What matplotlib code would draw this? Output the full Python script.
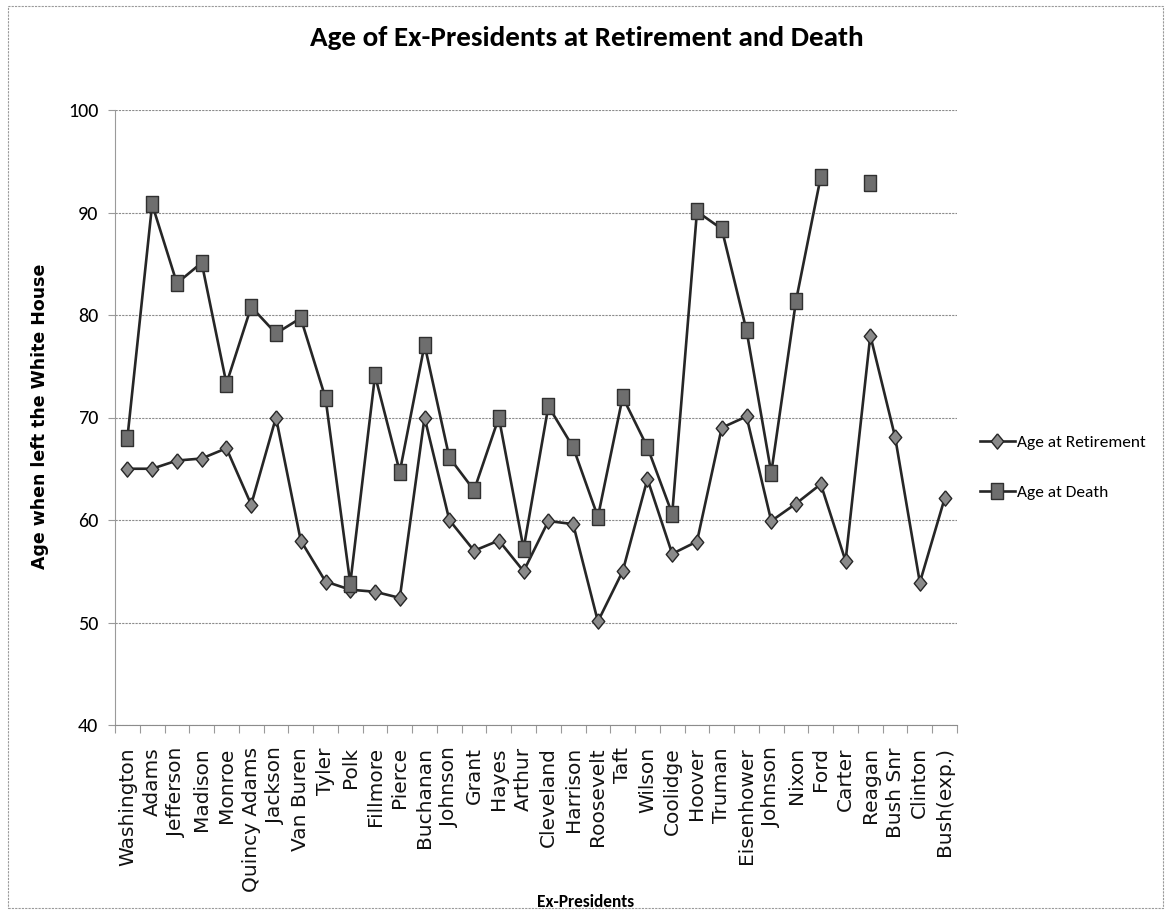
import matplotlib
matplotlib.use('Agg')
import matplotlib.pyplot as plt
import numpy as np
from matplotlib.patches import Rectangle
from matplotlib.ticker import FixedLocator, NullFormatter

presidents = ['Washington', 'Adams', 'Jefferson', 'Madison', 'Monroe', 'Quincy Adams',
              'Jackson', 'Van Buren', 'Tyler', 'Polk', 'Fillmore', 'Pierce', 'Buchanan',
              'Johnson', 'Grant', 'Hayes', 'Arthur', 'Cleveland', 'Harrison', 'Roosevelt',
              'Taft', 'Wilson', 'Coolidge', 'Hoover', 'Truman', 'Eisenhower', 'Johnson',
              'Nixon', 'Ford', 'Carter', 'Reagan', 'Bush Snr', 'Clinton', 'Bush(exp.)']

age_retirement = [65, 65, 65.8, 66, 67, 61.5, 70, 58, 54, 53.2, 53, 52.4, 70, 60, 57,
                  58, 55, 59.9, 59.6, 50.1, 55, 64, 56.7, 57.9, 69, 70.1, 59.9, 61.6,
                  63.5, 56, 78, 68.1, 53.9, 62.1]

nan = np.nan
age_death = [68, 90.8, 83.1, 85.1, 73.3, 80.8, 78.2, 79.7, 71.9, 53.8, 74.1, 64.7, 77.1,
             66.1, 62.9, 70, 57.2, 71.1, 67.1, 60.3, 72, 67.1, 60.6, 90.1, 88.4, 78.5,
             64.6, 81.4, 93.5, nan, 92.9, nan, nan, nan]

narrow = ['Carlito', 'Lato', 'DejaVu Sans']
wide = ['DejaVu Sans']

# slightly tall marker shapes
tall_square = [(-0.72, -1), (0.72, -1), (0.72, 1), (-0.72, 1), (-0.72, -1)]
tall_diamond = [(0, 1), (0.82, 0), (0, -1), (-0.82, 0), (0, 1)]

W, H = 1171, 914
fig = plt.figure(figsize=(W / 100, H / 100), dpi=100)

# thin dashed frame round the whole chart
fig.patches.append(Rectangle((8 / W, 1 - 908 / H), 1155 / W, 902 / H,
                             transform=fig.transFigure, fill=False,
                             edgecolor='#9a9a9a', lw=0.8, ls=(0, (2, 1))))

ax = fig.add_axes([115 / W, 1 - 725 / H, 842 / W, 615 / H])

x = np.arange(len(presidents))
line_col = '#262626'
ax.plot(x, age_retirement, color=line_col, lw=1.9, marker=tall_diamond, ms=11,
        mfc='#8a8a8a', mec=line_col, mew=1.0, label='Age at Retirement', zorder=3)
ax.plot(x, age_death, color=line_col, lw=1.9, marker=tall_square, ms=12,
        mfc='#6e6e6e', mec='#303030', mew=1.0, label='Age at Death', zorder=4)

ax.set_xlim(-0.5, len(presidents) - 0.5)
ax.set_ylim(40, 100)
ax.set_yticks(np.arange(40, 101, 10))
ax.grid(axis='y', color='#8c8c8c', lw=0.8, ls=(0, (2, 1)))
ax.set_axisbelow(True)

for side in ['top', 'right']:
    ax.spines[side].set_visible(False)
ax.spines['left'].set_color('#9a9a9a')
ax.spines['left'].set_linestyle((0, (2, 1)))
ax.spines['bottom'].set_color('#8c8c8c')
ax.spines['bottom'].set_linestyle((0, (2, 1)))

ax.set_xticks(x)
ax.set_xticklabels(presidents, rotation=90, fontsize=14.5, family=wide, color='#111111')
ax.xaxis.set_minor_locator(FixedLocator(np.arange(-0.5, len(presidents), 1.0)))
ax.xaxis.set_minor_formatter(NullFormatter())
ax.tick_params(axis='x', which='major', length=0, pad=16)
ax.tick_params(axis='x', which='minor', length=6, color='#9a9a9a', width=0.8)
ax.tick_params(axis='y', length=5, color='#9a9a9a', width=0.8, pad=7, labelsize=14.5)
for t in ax.get_yticklabels():
    t.set_family(narrow)

ax.set_ylabel('Age when left the White House', family=wide, fontsize=12.5,
              fontweight='bold', va='center')
ax.yaxis.set_label_coords(40 / W, 1 - 416 / H, transform=fig.transFigure)
ax.set_xlabel('Ex-Presidents', family=narrow, fontsize=12.5, fontweight='bold')
ax.xaxis.set_label_coords(0.5, 1 - 902 / H, transform=fig.transFigure)
ax.xaxis.label.set_va('center')

fig.text(587 / W, 1 - 38 / H, 'Age of Ex-Presidents at Retirement and Death',
         family=narrow, fontsize=21, fontweight='bold', ha='center', va='center')

ax.legend(loc='upper left', bbox_to_anchor=(980 / W, 1 - 435 / H),
          bbox_transform=fig.transFigure, frameon=False, prop={'family': narrow, 'size': 12.5},
          handlelength=2.0, handletextpad=0.15, labelspacing=2.0,
          borderpad=0, borderaxespad=0)

fig.savefig('out.png', dpi=100)
